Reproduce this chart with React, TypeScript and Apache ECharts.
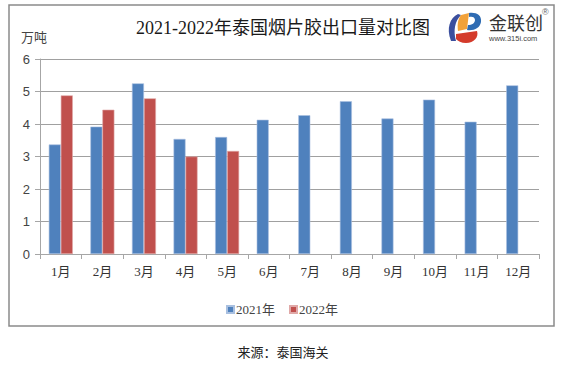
import React, { useEffect, useRef } from "react";
import * as echarts from "echarts";

const categories = ["1月", "2月", "3月", "4月", "5月", "6月", "7月", "8月", "9月", "10月", "11月", "12月"];
const series2021 = [3.37, 3.92, 5.25, 3.54, 3.6, 4.13, 4.27, 4.7, 4.17, 4.75, 4.07, 5.19];
const series2022 = [4.88, 4.44, 4.79, 3.0, 3.17, null, null, null, null, null, null, null];
const seriesNames = ["2021年", "2022年"];
const titleText = "2021-2022年泰国烟片胶出口量对比图";
const unitText = "万吨";
const sourceText = "来源：泰国海关";

const logoBlueLeft = "M 458 14 C 450 18 446 28 451 41 L 456 41 C 453 30 455 21 461 15 Z";
const logoOrange = "M 461 15 L 469 13 L 467 29 L 458 31 C 457 24 458 19 461 15 Z";
const logoBlueRight = "M 469 13 C 476 12 482 15 481 22 C 480 28 474 31 467 30 L 468 25 C 472 25 475 23 475 20 C 475 17 472 16 469 17 Z";
const logoRed = "M 456 34 L 477 31 C 479 37 474 43 466 43 C 461 43 458 41 456 39 Z";

echarts.graphic.registerShape("logoBlueLeft", echarts.graphic.extendPath(logoBlueLeft, {}));
echarts.graphic.registerShape("logoOrange", echarts.graphic.extendPath(logoOrange, {}));
echarts.graphic.registerShape("logoBlueRight", echarts.graphic.extendPath(logoBlueRight, {}));
echarts.graphic.registerShape("logoRed", echarts.graphic.extendPath(logoRed, {}));

const serif = "'Liberation Serif', 'Noto Sans CJK SC', serif";
const sans = "'Liberation Sans', 'Noto Sans CJK SC', sans-serif";

export default function App() {
  const ref = useRef<HTMLDivElement>(null);
  useEffect(() => {
    if (!ref.current) return;
    const chart = echarts.init(ref.current, null, { renderer: "svg" });
    chart.setOption({
      animation: false,
      backgroundColor: "#ffffff",
      color: ["#4f81bd", "#c0504d"],
      grid: { left: 40, top: 59, width: 499, height: 195, containLabel: false },
      legend: {
        data: seriesNames,
        left: 221,
        top: 298,
        itemWidth: 7,
        itemHeight: 7,
        itemGap: 14,
        icon: "rect",
        textStyle: { fontFamily: serif, fontSize: 13, color: "#444", padding: [0, 0, 0, -3] },
      },
      xAxis: {
        type: "category",
        data: categories,
        axisLine: { lineStyle: { color: "#a6a6a6", width: 1 } },
        axisTick: { show: true, length: 5, lineStyle: { color: "#a6a6a6" } },
        axisLabel: { fontFamily: serif, fontSize: 13, color: "#333", margin: 11 },
      },
      yAxis: {
        type: "value",
        min: 0,
        max: 6,
        interval: 1,
        axisLine: { show: true, lineStyle: { color: "#a6a6a6", width: 1 } },
        axisTick: { show: true, length: 5, lineStyle: { color: "#a6a6a6" } },
        axisLabel: { fontFamily: sans, fontSize: 13, color: "#444", margin: 10 },
        splitLine: { lineStyle: { color: "#a0a0a0", width: 1 } },
      },
      series: [
        {
          name: seriesNames[0],
          type: "bar",
          data: series2021,
          barWidth: 12,
          barGap: "0%",
          itemStyle: { color: "#4f81bd", borderColor: "#a9c0e0", borderWidth: 0.6 },
        },
        {
          name: seriesNames[1],
          type: "bar",
          data: series2022,
          barWidth: 12,
          barGap: "0%",
          itemStyle: { color: "#c0504d", borderColor: "#e0a9a8", borderWidth: 0.6 },
        },
      ],
      graphic: [
        {
          type: "rect",
          shape: { x: 9, y: 5, width: 545, height: 321 },
          style: { fill: "none", stroke: "#8a8a8a", lineWidth: 1.5 },
          z: 10,
        },
        {
          type: "text",
          x: 283,
          y: 28,
          style: { text: titleText, font: `18px ${serif}`, fill: "#1a1a1a", align: "center", verticalAlign: "middle" },
        },
        {
          type: "text",
          x: 21,
          y: 37,
          style: { text: unitText, font: `13px ${sans}`, fill: "#444", align: "left", verticalAlign: "middle" },
        },
        { type: "logoBlueLeft", style: { fill: "#3b4f9e" } },
        { type: "logoOrange", style: { fill: "#f2a23a" } },
        { type: "logoBlueRight", style: { fill: "#2f6cb3" } },
        { type: "logoRed", style: { fill: "#d43b2b" } },
        {
          type: "text",
          x: 489,
          y: 24,
          style: { text: "金联创", font: `18px ${sans}`, fill: "#333", align: "left", verticalAlign: "middle" },
        },
        {
          type: "text",
          x: 542,
          y: 12,
          style: { text: "®", font: `9px ${sans}`, fill: "#666", align: "left", verticalAlign: "middle" },
        },
        {
          type: "text",
          x: 489,
          y: 38,
          style: { text: "www.315i.com", font: `7.5px ${sans}`, fill: "#444", align: "left", verticalAlign: "middle" },
        },
        {
          type: "text",
          x: 283,
          y: 352,
          style: { text: sourceText, font: `13px ${sans}`, fill: "#222", align: "center", verticalAlign: "middle" },
        },
      ],
    });
    return () => chart.dispose();
  }, []);
  return <div ref={ref} style={{ position: "fixed", left: 0, top: 0, width: 568, height: 377 }} />;
}
